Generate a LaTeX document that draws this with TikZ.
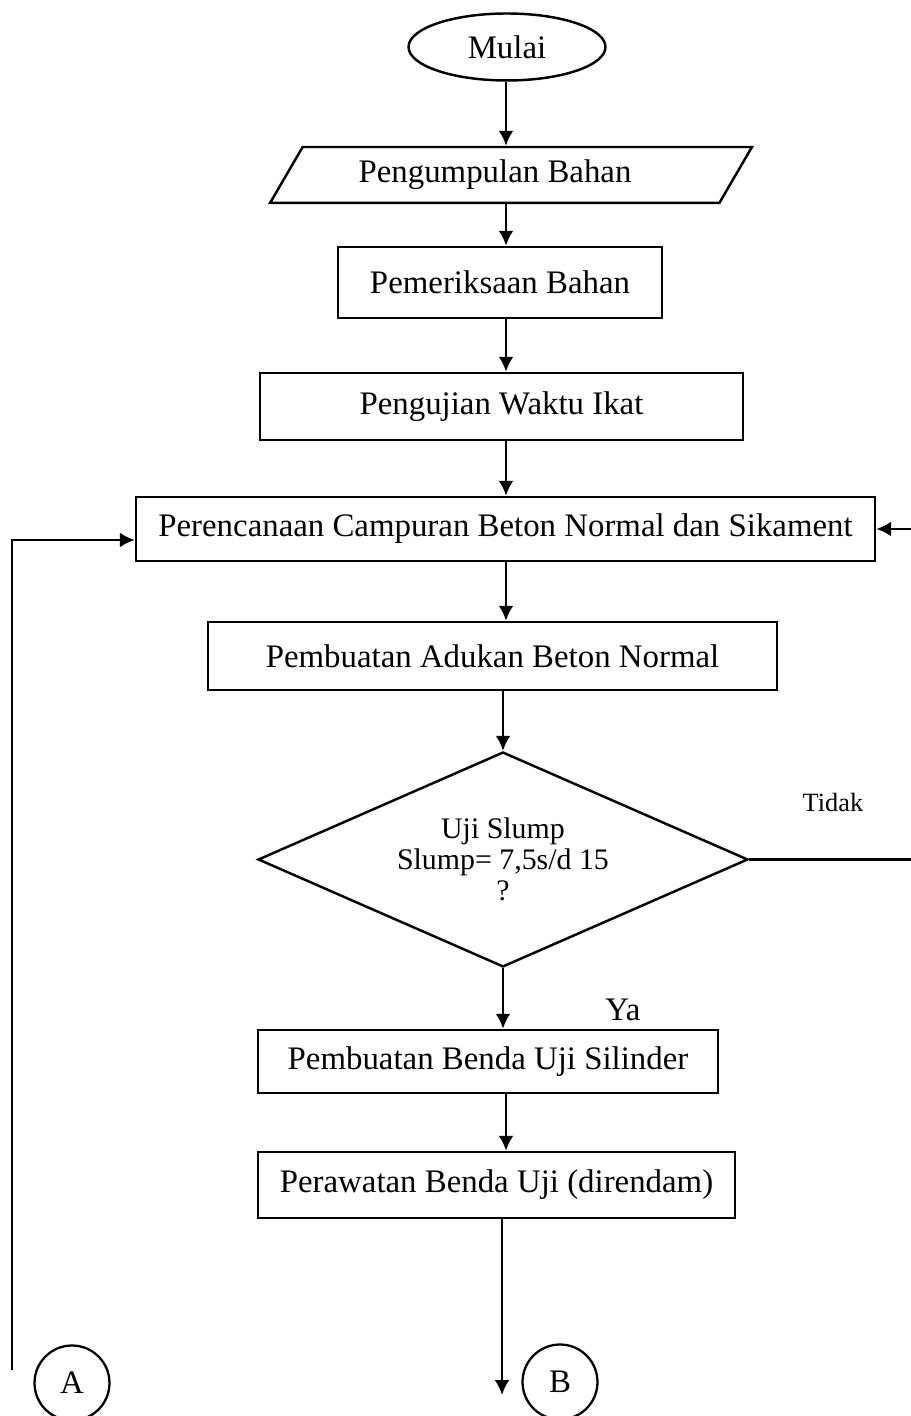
\documentclass[tikz,border=0pt]{standalone}
\usepackage{fontspec}
\setmainfont{Liberation Serif}
\usetikzlibrary{shapes.geometric,arrows.meta}

\tikzset{
  process/.style={draw,line width=1.4pt,inner sep=0pt},
  flow/.style={line width=1.5pt,-{Latex[length=3mm,width=3mm]}},
  plain/.style={line width=1.5pt},
  connect/.style={draw,circle,line width=1.3pt,minimum size=1.5cm,inner sep=0pt}
}

\begin{document}
\begin{tikzpicture}[x=0.02cm,y=0.02cm,font=\fontsize{18.7}{22}\selectfont]
 \useasboundingbox (0,0) rectangle (911,1416);
 \coordinate (spine) at (506,0);
 % terminal and input
 \node[process,ellipse,minimum width=3.94cm,minimum height=1.34cm] (mulai) at (507,1369) {Mulai};
 \node[process,trapezium,trapezium left angle=42.5,trapezium right angle=137.5,
   trapezium stretches body,minimum width=9.64cm,minimum height=1.12cm] (bahan) at (511,1241) {\hspace*{-0.64cm}Pengumpulan Bahan};
 % processes
 \node[process,minimum width=6.48cm,minimum height=1.42cm] (periksa) at (500,1133.5) {Pemeriksaan Bahan};
 \node[process,minimum width=9.66cm,minimum height=1.34cm] (ikat) at (501.5,1009.5) {Pengujian Waktu Ikat};
 \node[process,minimum width=14.78cm,minimum height=1.28cm] (rencana) at (505.5,887) {Perencanaan Campuran Beton Normal dan Sikament};
 \node[process,minimum width=11.38cm,minimum height=1.36cm] (adukan) at (492.5,760) {Pembuatan Adukan Beton Normal};
 \node[process,diamond,aspect=2.28,minimum width=9.8cm,minimum height=4.3cm,align=center,
   font=\fontsize{17}{17.5}\selectfont] (slump) at (503,556.5) {Uji Slump\\Slump= 7,5s/d 15\\?};
 \node[process,minimum width=9.2cm,minimum height=1.26cm] (silinder) at (488,354.5) {Pembuatan Benda Uji Silinder};
 \node[process,minimum width=9.54cm,minimum height=1.32cm] (rawat) at (496.5,231) {Perawatan Benda Uji (direndam)};
 % labels and connectors
 \node[font=\fontsize{15}{18}\selectfont] (tidak) at (833,614) {Tidak};
 \node (ya) at (623,406) {Ya};
 \node[connect] (konA) at (72,33) {A};
 \node[connect] (konB) at (560,34) {B};
 \coordinate (ujungA) at (12,46);
 \coordinate (ujungB) at (502,21);
 \coordinate (kanan) at (925,0);

 \draw[flow] (mulai.south -| spine) -- (bahan.north -| spine);
 \draw[flow] (bahan.south -| spine) -- (periksa.north -| spine);
 \draw[flow] (periksa.south -| spine) -- (ikat.north -| spine);
 \draw[flow] (ikat.south -| spine) -- (rencana.north -| spine);
 \draw[flow] (rencana.south -| spine) -- (adukan.north -| spine);
 \draw[flow] (adukan.south -| slump.north) -- (slump.north);
 \draw[flow] (slump.south) -- (slump.south |- silinder.north);
 \draw[flow] (silinder.south -| spine) -- (rawat.north -| spine);
 \draw[flow] (rawat.south -| ujungB) -- (ujungB);
 \draw[flow] (ujungA) |- ([yshift=-0.22cm]rencana.west);
 \draw[plain] (slump.east) -- (slump.east -| kanan) -- (kanan |- rencana.east);
 \draw[flow] (kanan |- rencana.east) -- (rencana.east);
\end{tikzpicture}
\end{document}
